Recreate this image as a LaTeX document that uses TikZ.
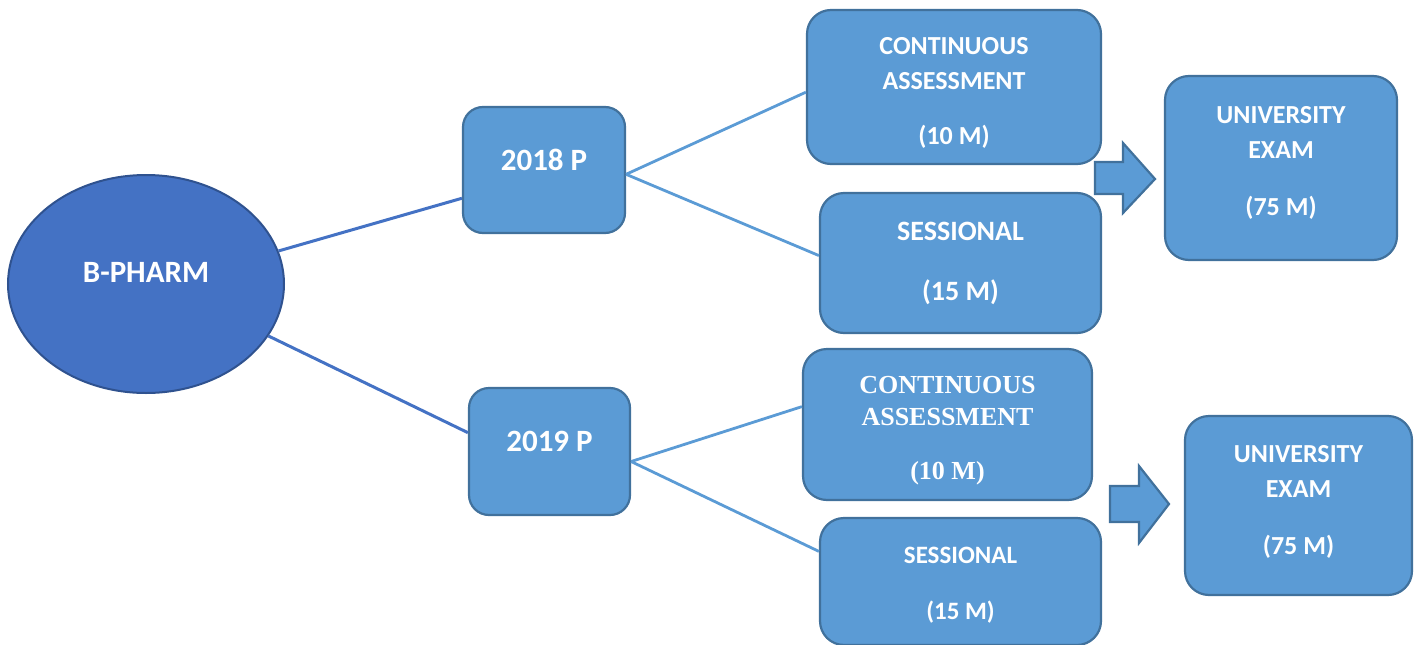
\documentclass[tikz,border=0pt]{standalone}
\usepackage{fontspec}
\setmainfont{Carlito}
\newfontfamily\timesbold{Liberation Serif}
\usetikzlibrary{shapes.geometric}
\definecolor{rootblue}{HTML}{4472C4}
\definecolor{rootedge}{HTML}{2F528F}
\definecolor{boxblue}{HTML}{5B9BD5}
\definecolor{boxedge}{HTML}{41719C}

\begin{document}
\begin{tikzpicture}[x=1pt, y=-1pt,
    box/.style={draw=boxedge, fill=boxblue, line width=2.2pt, rounded corners=24pt,
      text=white, align=center, inner sep=0pt, font=\bfseries\fontsize{26}{35}\selectfont},
    yearbox/.style={box, rounded corners=20pt, text depth=20pt, font=\bfseries\fontsize{31}{36}\selectfont},
    link/.style={draw=boxblue, line width=2.8pt},
    rootlink/.style={draw=rootblue, line width=3pt},
    bigarrow/.style={draw=boxedge, fill=boxblue, line width=2.2pt, line join=miter}]
    \useasboundingbox (0,0) rectangle (1427,645);

    % Root of the scheme
    \node[ellipse, draw=rootedge, fill=rootblue, line width=2pt, minimum width=276pt,
      minimum height=218pt, text=white, text depth=24pt,
      font=\bfseries\fontsize{31}{36}\selectfont] (bpharm) at (146,284) {B-PHARM};

    % The two patterns
    \node[yearbox, minimum width=162pt, minimum height=126pt] (p2018) at (544,170) {2018 P};
    \node[yearbox, minimum width=161pt, minimum height=127pt] (p2019) at (549.5,451.5) {2019 P};

    % Internal marks, 2018 pattern
    \node[box, minimum width=294pt, minimum height=154pt] (ca2018) at (954,87)
      {\rule{0pt}{29pt}CONTINUOUS\\ASSESSMENT\\[20pt](10 M)};
    \node[box, minimum width=281pt, minimum height=140pt,
      font=\bfseries\fontsize{28}{35}\selectfont] (ses2018) at (960.5,263)
      {SESSIONAL\\[25pt](15 M)};

    % Internal marks, 2019 pattern
    \node[box, minimum width=289pt, minimum height=151pt,
      font=\timesbold\bfseries\fontsize{26}{32}\selectfont] (ca2019) at (947.5,424.5)
      {\rule{0pt}{29pt}CONTINUOUS\\ASSESSMENT\\[22pt](10 M)};
    \node[box, minimum width=281pt, minimum height=127pt,
      font=\bfseries\fontsize{25}{30}\selectfont] (ses2019) at (960.5,581.5)
      {\rule{0pt}{23pt}SESSIONAL\\[26pt](15 M)};

    % University exams
    \node[box, minimum width=232pt, minimum height=184pt] (ue2018) at (1281,168)
      {UNIVERSITY\\EXAM\\[22pt](75 M)\rule[-14pt]{0pt}{1pt}};
    \node[box, minimum width=227pt, minimum height=179pt] (ue2019) at (1298.5,505.5)
      {UNIVERSITY\\EXAM\\[22pt](75 M)\rule[-12pt]{0pt}{1pt}};

    % Connect root to patterns
    \draw[rootlink] (bpharm.14) -- (p2018.199);
    \draw[rootlink] (bpharm.-23) -- (p2019.167);

    % Connect patterns to internal marks
    \draw[link] (p2018.-3.5) -- (ca2018.-178);
    \draw[link] (p2018.-3.5) -- (ses2018.177);
    \draw[link] (p2019.-7) -- (ca2019.173);
    \draw[link] (p2019.-7) -- (ses2019.168);

    % Block arrows towards the exams
    \draw[bigarrow] (1095,162) -- (1123,162) -- (1123,143) -- (1155,179)
      -- (1123,213) -- (1123,194) -- (1095,194) -- cycle;
    \draw[bigarrow] (1110,486) -- (1139,486) -- (1139,466) -- (1169,504)
      -- (1139,543) -- (1139,522) -- (1110,522) -- cycle;
\end{tikzpicture}
\end{document}
